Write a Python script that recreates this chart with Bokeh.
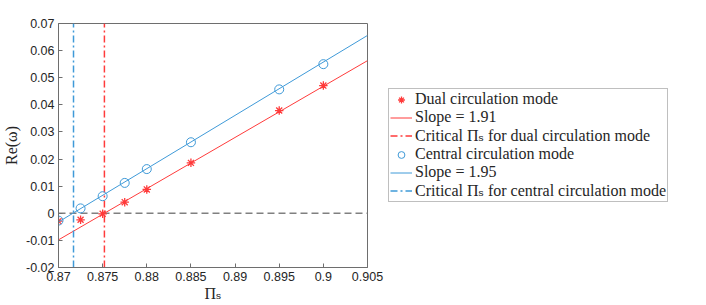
import math
from bokeh.plotting import figure
from bokeh.layouts import row
from bokeh.models import Legend, LegendItem, FixedTicker, Range1d
from bokeh.embed import file_html
from bokeh.resources import INLINE

# ---- data ----
pi_s = [0.87, 0.8725, 0.875, 0.8775, 0.88, 0.885, 0.895, 0.9]
dual_mode = [-0.0029, -0.0024, -0.0002, 0.0041, 0.0088, 0.0186, 0.0379, 0.0471]
central_mode = [-0.0027, 0.0018, 0.0063, 0.0112, 0.0163, 0.0262, 0.0457, 0.0550]

fit_x = [0.87, 0.905]
dual_fit = [-0.0098, 0.0563]
central_fit = [-0.0032, 0.0656]

crit_dual = 0.8752
crit_central = 0.8717

x_ticks = [0.87, 0.875, 0.88, 0.885, 0.89, 0.895, 0.9, 0.905]
x_tick_labels = ["0.87", "0.875", "0.88", "0.885", "0.89", "0.895", "0.9", "0.905"]
y_ticks = [-0.02, -0.01, 0.0, 0.01, 0.02, 0.03, 0.04, 0.05, 0.06, 0.07]
y_tick_labels = ["-0.02", "-0.01", "0", "0.01", "0.02", "0.03", "0.04", "0.05", "0.06", "0.07"]

legend_labels = ["Dual circulation mode", "Slope = 1.91",
                 "Critical \u03a0\u209b for dual circulation mode",
                 "Central circulation mode", "Slope = 1.95",
                 "Critical \u03a0\u209b for central circulation mode"]

x_min, x_max = 0.87, 0.905
y_min, y_max = -0.02, 0.07

RED = "#ff3b3b"
BLUE = "#3f9ad8"
AX = "#6e6e6e"
TXT = "#262626"
SERIF = "'Liberation Serif', 'DejaVu Serif', serif"
SANS = "'Liberation Sans', Arial, sans-serif"


def draw_series(fig, visible=True, star=8.5, circ=9):
    rs = {}
    rs["dual"] = fig.scatter(pi_s, dual_mode, marker="asterisk", size=star,
                             line_color=RED, line_width=1.3, visible=visible)
    rs["dfit"] = fig.line(fit_x, dual_fit, line_color=RED, line_width=1, visible=visible)
    rs["dcrit"] = fig.segment(x0=[crit_dual], y0=[y_min], x1=[crit_dual], y1=[y_max],
                              line_color=RED, line_width=1.5, line_dash="7 3 2 3",
                              visible=visible)
    rs["cent"] = fig.scatter(pi_s, central_mode, marker="circle", size=circ, fill_color=None,
                             line_color=BLUE, line_width=1, visible=visible)
    rs["cfit"] = fig.line(fit_x, central_fit, line_color=BLUE, line_width=1, visible=visible)
    rs["ccrit"] = fig.segment(x0=[crit_central], y0=[y_min], x1=[crit_central], y1=[y_max],
                              line_color=BLUE, line_width=1.5, line_dash="7 3 2 3",
                              visible=visible)
    return rs


p = figure(width=385, height=305, output_backend="svg", toolbar_location=None,
           x_range=Range1d(x_min, x_max), y_range=Range1d(y_min, y_max),
           min_border_left=52, min_border_right=18, min_border_top=23,
           min_border_bottom=38)
p.xgrid.visible = False
p.ygrid.visible = False
p.outline_line_color = AX
p.background_fill_color = "white"
p.border_fill_color = "white"

# zero line
p.line([x_min, x_max], [0, 0], line_color="#808080", line_width=1.5, line_dash="7 4")
draw_series(p)

# axes styling
for ax in (p.xaxis[0], p.yaxis[0]):
    ax.axis_line_color = AX
    ax.major_tick_line_color = AX
    ax.major_tick_in = 4
    ax.major_tick_out = 0
    ax.minor_tick_line_color = None
    ax.major_label_text_font = SANS
    ax.major_label_text_font_size = "12.5px"
    ax.major_label_text_color = TXT
    ax.axis_label_text_font = SERIF
    ax.axis_label_text_font_style = "normal"
    ax.axis_label_text_font_size = "16px"
    ax.axis_label_text_color = TXT

p.xaxis[0].ticker = FixedTicker(ticks=x_ticks)
p.xaxis[0].major_label_overrides = {t: l for t, l in zip(x_ticks, x_tick_labels)}
p.yaxis[0].ticker = FixedTicker(ticks=y_ticks)
p.yaxis[0].major_label_overrides = {t: l for t, l in zip(y_ticks, y_tick_labels)}
p.xaxis[0].major_label_standoff = 4
p.yaxis[0].major_label_standoff = 4

p.xaxis[0].axis_label = "\u03a0\u209b"
p.xaxis[0].axis_label_standoff = 1
p.yaxis[0].axis_label = "Re(\u03c9)"
p.yaxis[0].axis_label_standoff = 3

# ---- legend panel (separate figure to the right; hidden copies of the series) ----
q = figure(width=321, height=305, output_backend="svg", toolbar_location=None,
           x_range=Range1d(x_min, x_max), y_range=Range1d(y_min, y_max),
           x_axis_location=None, y_axis_location=None,
           min_border=0, min_border_left=0, min_border_right=0,
           min_border_top=0, min_border_bottom=0)
q.xgrid.visible = False
q.ygrid.visible = False
q.outline_line_color = None
q.background_fill_color = "white"
q.border_fill_color = "white"
lr = draw_series(q, visible=False, star=6, circ=6.5)

legend = Legend(items=[
    LegendItem(label=legend_labels[0], renderers=[lr["dual"]]),
    LegendItem(label=legend_labels[1], renderers=[lr["dfit"]]),
    LegendItem(label=legend_labels[2], renderers=[lr["dcrit"]]),
    LegendItem(label=legend_labels[3], renderers=[lr["cent"]]),
    LegendItem(label=legend_labels[4], renderers=[lr["cfit"]]),
    LegendItem(label=legend_labels[5], renderers=[lr["ccrit"]]),
], location=(3, 65))
legend.label_text_font = SERIF
legend.label_text_font_size = "16px"
legend.label_text_color = TXT
legend.glyph_width = 22
legend.glyph_height = 17
legend.label_height = 17
legend.spacing = 0
legend.padding = 1
legend.margin = 0
legend.label_standoff = 3
legend.border_line_color = "#808080"
legend.border_line_width = 1
legend.background_fill_color = "white"
legend.background_fill_alpha = 1
q.add_layout(legend, "center")

layout = row(p, q)
open("out.html", "w").write(file_html(layout, INLINE))
